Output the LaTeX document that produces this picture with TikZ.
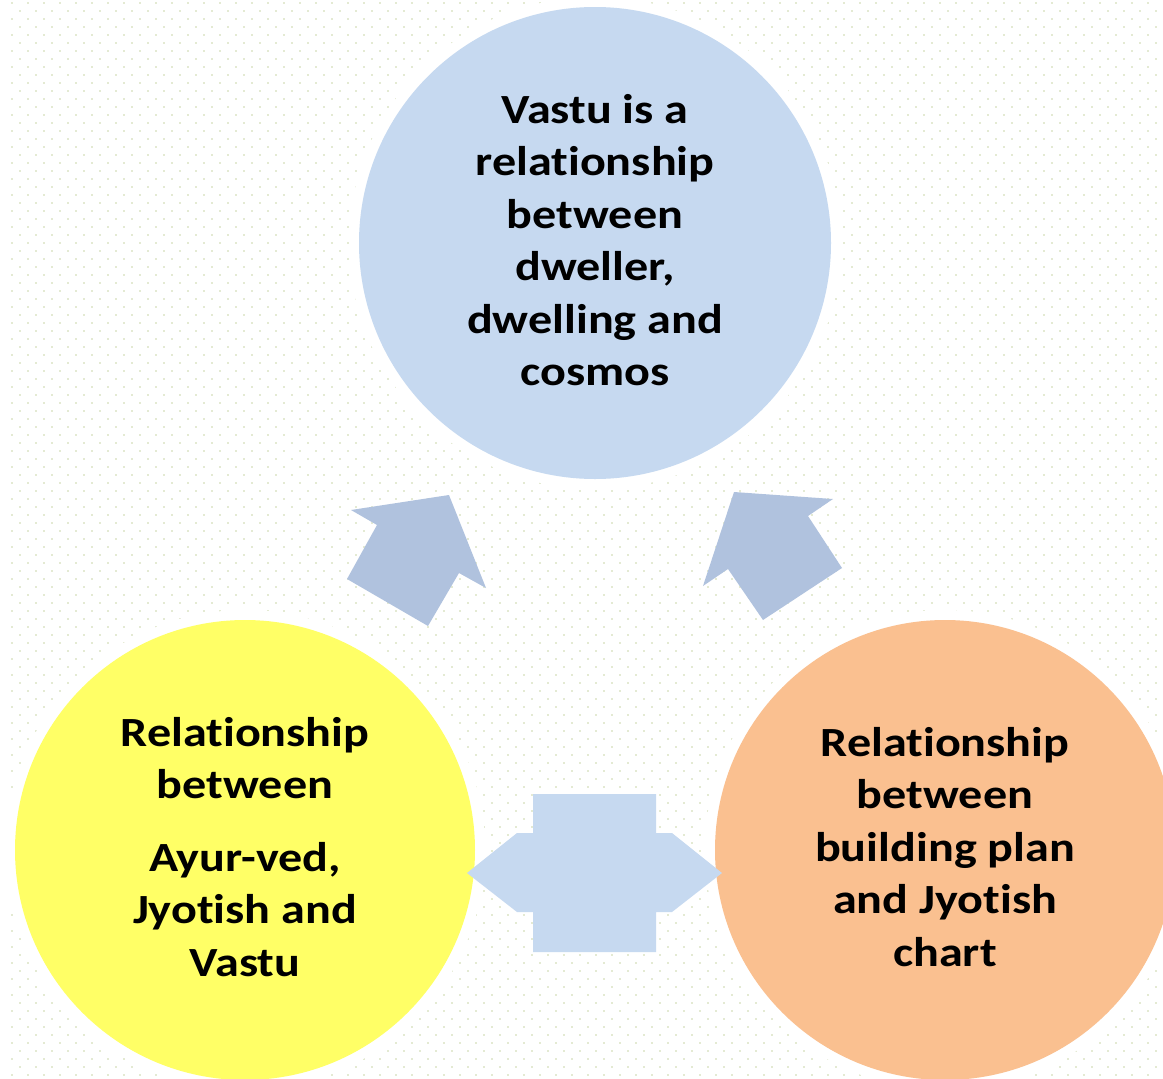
\documentclass[tikz,border=0pt]{standalone}
\usepackage{fontspec}
\setmainfont{Carlito}[FakeStretch=1.16,Ligatures=NoCommon]
\begin{document}
\begin{tikzpicture}[x=1pt,y=-1pt,
  bubble/.style={circle,inner sep=0pt},
  bubbletext/.style={inner sep=0pt,align=center,font=\fontsize{41.5}{52.5}\selectfont\bfseries},
  halo/.style={circle,fill=white,inner sep=0pt},
  blockarrow/.style={fill=arrowblue,draw=none}]
\definecolor{topblue}{HTML}{C6D9F0}
\definecolor{arrowblue}{HTML}{B0C2DE}
\definecolor{yel}{HTML}{FFFF66}
\definecolor{org}{HTML}{FAC090}
\definecolor{dotc}{HTML}{E4EAD3}
\useasboundingbox (0,0) rectangle (1163,1079);
\fill[white] (0,0) rectangle (1163,1079);
\foreach \y in {0,16,...,1072}{
  \foreach \x in {12,28,...,1160}{
    \fill[dotc] (\x-1,\y+2) rectangle (\x+1,\y+4);
    \fill[dotc] (\x+7,\y+10) rectangle (\x+9,\y+12);
  }
}
% halos
\node[halo,minimum size=492pt] at (595,243) {};
\node[halo,minimum size=480pt] at (245,850) {};
\node[halo,minimum size=480pt] at (945,850) {};
% circles
\node[bubble,fill=topblue,minimum size=472pt] (top) at (595,243) {};
\node[bubble,fill=yel,minimum size=460pt] (left) at (245,850) {};
\node[bubble,fill=org,minimum size=460pt] (right) at (945,850) {};
\node[bubbletext,yshift=3pt] (toptext) at (top.center)
  {Vastu is a\\relationship\\between\\dweller,\\dwelling and\\cosmos};
\node[bubbletext,yshift=3pt] (lefttext) at (left.center)
  {Relationship\\between\\[20pt]Ayur-ved,\\Jyotish and\\Vastu};
\node[bubbletext,yshift=3pt] (righttext) at (right.center)
  {Relationship\\between\\building plan\\and Jyotish\\chart};
% block arrows
\fill[blockarrow] (449,495) -- (486,588) -- (459,573) -- (428,626) -- (347,579) -- (377,525) -- (351,510) -- cycle;
\fill[blockarrow] (734,492) -- (833,499) -- (808,516) -- (842,568) -- (763,620) -- (728,569) -- (703,586) -- cycle;
\fill[topblue] (467,873) -- (517,833) -- (533,833) -- (533,794) -- (656,794) -- (656,833) -- (672,833) -- (722,873)
  -- (672,912) -- (656,912) -- (656,952) -- (533,952) -- (533,912) -- (517,912) -- cycle;
\end{tikzpicture}
\end{document}
